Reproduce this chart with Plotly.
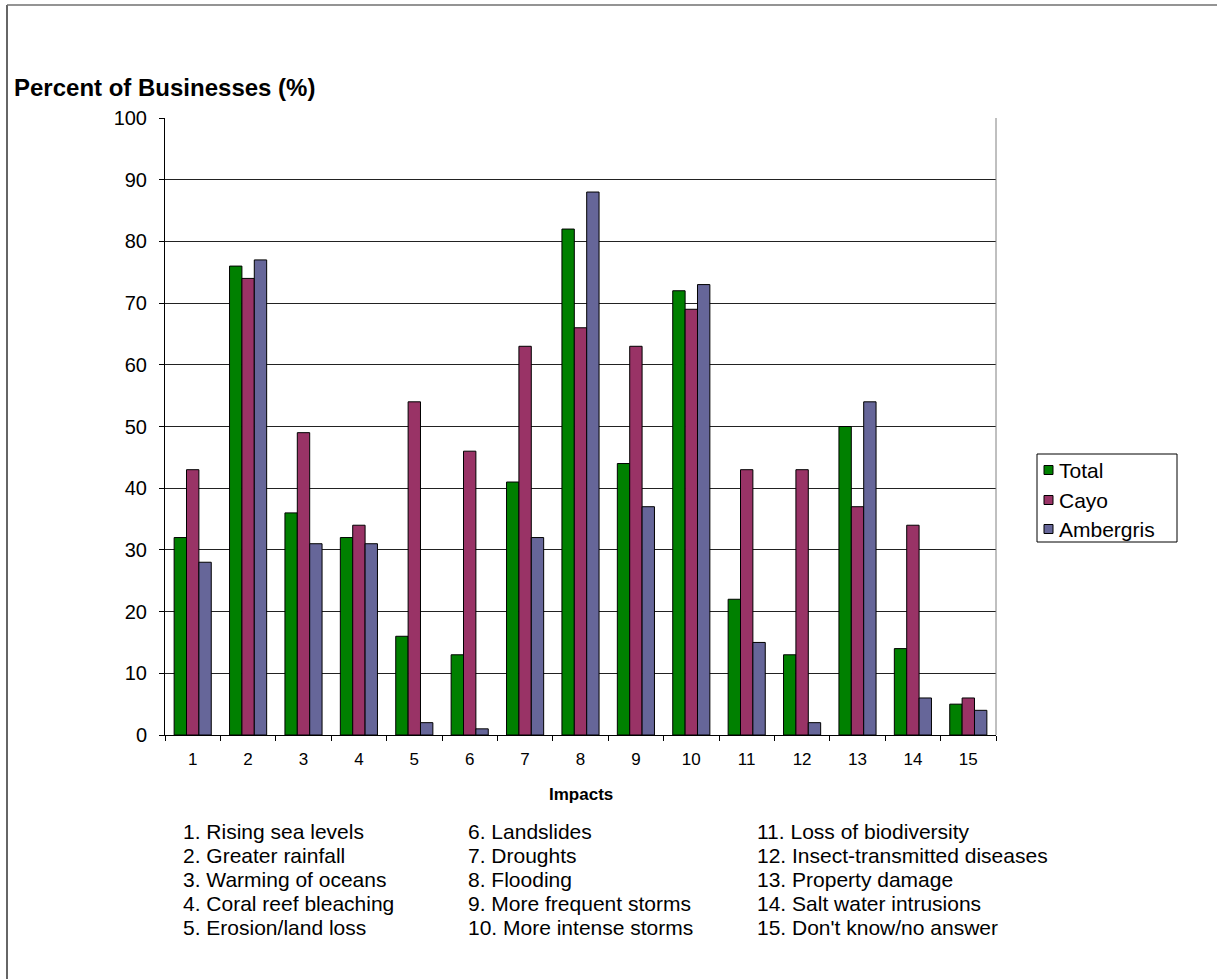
import plotly.graph_objects as go

# Survey results: share of businesses expecting each climate impact
impacts = [str(i) for i in range(1, 16)]
total = [32, 76, 36, 32, 16, 13, 41, 82, 44, 72, 22, 13, 50, 14, 5]
cayo = [43, 74, 49, 34, 54, 46, 63, 66, 63, 69, 43, 43, 37, 34, 6]
ambergris = [28, 77, 31, 31, 2, 1, 32, 88, 37, 73, 15, 2, 54, 6, 4]

impact_names = [
    "1. Rising sea levels", "2. Greater rainfall", "3. Warming of oceans",
    "4. Coral reef bleaching", "5. Erosion/land loss",
    "6. Landslides", "7. Droughts", "8. Flooding",
    "9. More frequent storms", "10. More intense storms",
    "11. Loss of biodiversity", "12. Insect-transmitted diseases",
    "13. Property damage", "14. Salt water intrusions",
    "15. Don't know/no answer",
]

series = [
    ("Total", total, "#008000"),
    ("Cayo", cayo, "#993366"),
    ("Ambergris", ambergris, "#666699"),
]

W, H = 1217, 979
L, R, T, B = 165, 996, 118, 735  # plot area in pixels
pw, ph = R - L, B - T


def px_x(x):
    return (x - L) / pw


def px_y(y):
    return (B - y) / ph


fig = go.Figure()
for name, vals, color in series:
    fig.add_trace(go.Bar(
        name=name, x=impacts, y=vals,
        marker=dict(color=color, line=dict(color="black", width=1)),
        showlegend=False,
    ))

font = "Arial, Liberation Sans, sans-serif"

annotations = [
    dict(text="<b>Percent of Businesses (%)</b>", x=px_x(12), y=px_y(87),
         xref="paper", yref="paper", xanchor="left", yanchor="middle",
         showarrow=False, font=dict(family=font, size=24, color="black")),
    dict(text="<b>Impacts</b>", x=0.5, y=px_y(794),
         xref="paper", yref="paper", xanchor="center", yanchor="middle",
         showarrow=False, font=dict(family=font, size=17, color="black")),
]

# numbered key below the axis, three columns of five
col_x = [181, 466, 755]
row_y = [831, 855, 879, 903, 927]
for k, label in enumerate(impact_names):
    c, r = divmod(k, 5)
    annotations.append(dict(
        text=label, x=px_x(col_x[c]), y=px_y(row_y[r]),
        xref="paper", yref="paper", xanchor="left", yanchor="middle",
        showarrow=False, font=dict(family=font, size=21, color="black"),
    ))

shapes = [
    # right edge of plot area
    dict(type="line", xref="paper", yref="paper", x0=1, x1=1, y0=0, y1=1,
         line=dict(color="#808080", width=1)),
    # chart frame (left and top edges)
    dict(type="line", xref="paper", yref="paper",
         x0=px_x(7), x1=px_x(7), y0=px_y(5), y1=px_y(H + 5),
         line=dict(color="#333333", width=1.5)),
    dict(type="line", xref="paper", yref="paper",
         x0=px_x(7), x1=px_x(W + 5), y0=px_y(5), y1=px_y(5),
         line=dict(color="#707070", width=1.5)),
    # legend box
    dict(type="rect", xref="paper", yref="paper",
         x0=px_x(1037), x1=px_x(1177), y0=px_y(454), y1=px_y(542),
         line=dict(color="black", width=1), fillcolor="white"),
]

legend_rows = [470, 500, 529]
for (name, _, color), ly in zip(series, legend_rows):
    shapes.append(dict(
        type="rect", xref="paper", yref="paper",
        x0=px_x(1044), x1=px_x(1053), y0=px_y(ly - 4.5), y1=px_y(ly + 4.5),
        line=dict(color="black", width=1), fillcolor=color,
    ))
    annotations.append(dict(
        text=name, x=px_x(1057), y=px_y(ly),
        xref="paper", yref="paper", xanchor="left", yanchor="middle",
        showarrow=False, font=dict(family=font, size=21, color="black"),
    ))

fig.update_layout(
    width=W, height=H,
    margin=dict(l=L, r=W - R, t=T, b=H - B, autoexpand=False),
    paper_bgcolor="white", plot_bgcolor="white",
    barmode="group", bargap=0.33, bargroupgap=0,
    font=dict(family=font, color="black"),
    showlegend=False,
    xaxis=dict(
        type="category", tickson="boundaries", ticks="outside", ticklen=5,
        tickcolor="black", showline=True, linecolor="black", linewidth=1,
        showgrid=False, tickfont=dict(size=17, color="black"),
        ticklabelstandoff=9,
    ),
    yaxis=dict(
        range=[0, 100], dtick=10, ticks="outside", ticklen=5,
        tickcolor="black", showline=True, linecolor="black", linewidth=1,
        showgrid=True, gridcolor="#222222", gridwidth=1,
        tickfont=dict(size=20, color="black"), zeroline=False,
        ticklabelstandoff=8,
    ),
    annotations=annotations,
    shapes=shapes,
)

fig.write_html("out.html")
